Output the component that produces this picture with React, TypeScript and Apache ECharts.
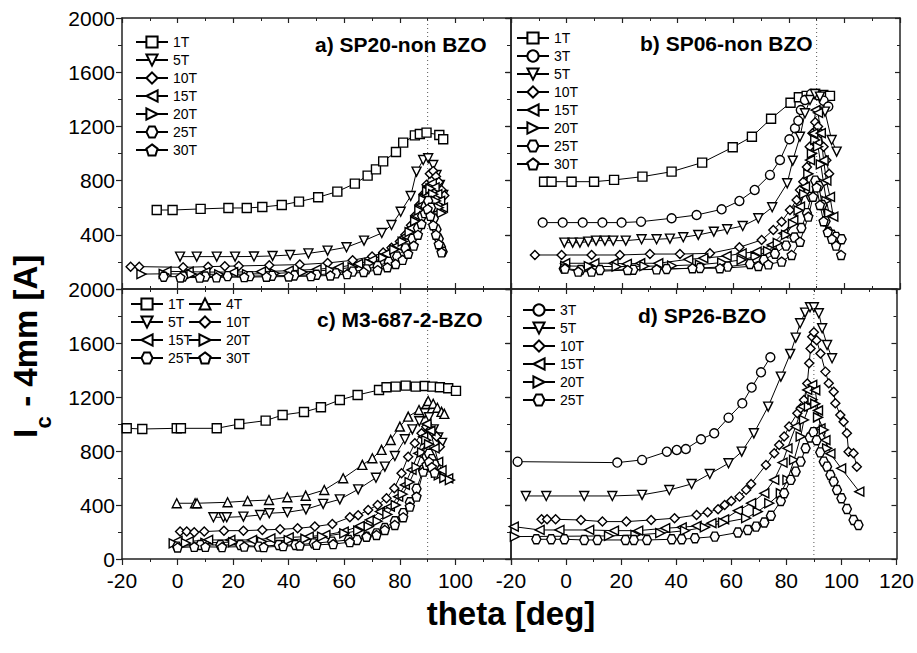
import React, { useEffect, useRef } from "react";
import * as echarts from "echarts";

// ---------------- data (theta [deg], Ic [A]) ----------------
const A_1T = [[-7.5,583],[-1.8,583],[8.3,591],[18.3,598],[24.9,598],[30.5,605],[37.5,620],[43.7,645],[50.6,677],[57.5,719],[63.8,778],[68.4,837],[71.4,883],[74,942],[78.6,1011],[81.2,1080],[85.4,1134],[87.2,1144],[89.6,1154],[94.2,1137],[95.6,1105]];
const A_5T = [[0.9,239],[6.9,239],[14.1,239],[20.7,239],[27.5,240],[34.2,244],[40.5,251],[47.1,263],[54,283],[60.8,308],[67.1,357],[73.5,413],[77,472],[80.3,570],[83.9,686],[86,866],[88.4,952],[90.2,965],[92,915],[93.2,841],[94.4,768],[95.6,694]];
const A_10T = [[-16.9,165],[-13.8,165],[2,160],[11,165],[17,168],[22,170],[33,175],[44,180],[54,192],[63,212],[70,240],[74,270],[77,305],[80,350],[82,400],[84,470],[85.5,540],[87,620],[88.5,700],[89.6,770],[90.8,850],[92,870],[93,830],[94,790],[95,730],[96,690]];
const A_15T = [[-4,130],[4,128],[10,125],[20,125],[30,128],[40,135],[50,145],[58,160],[65,185],[70,215],[75,260],[79,320],[82,390],[84,450],[86,540],[87.5,620],[89,700],[90.2,760],[91.5,780],[92.5,750],[93.5,700],[94.5,650],[95.5,600]];
const A_20T = [[-13,110],[-5,112],[5,110],[15,108],[25,110],[35,115],[45,125],[55,140],[63,160],[69,190],[74,230],[78,290],[81,350],[83.5,420],[85.5,500],[87,580],[88.5,660],[89.8,720],[91,740],[92,700],[93,650],[94,600],[95,560]];
const A_25T = [[-5,90],[2,92],[10,92],[18,95],[26,95],[34,98],[42,100],[50,105],[57,115],[63,128],[68,145],[72,170],[76,200],[79,240],[82,300],[84.5,370],[86.5,450],[88,540],[89.2,610],[90.2,650],[91.2,600],[92.2,520],[93.2,440],[94,370],[94.8,310],[95.4,275]];
const A_30T = [[1,85],[8,84],[14,86],[24,88],[32,90],[40,92],[48,95],[55,100],[61,110],[67,125],[72,140],[75.5,160],[78.5,185],[81,215],[83,260],[85,320],[86.5,400],[87.8,480],[89,560],[90,590],[91,540],[92,470],[93,400],[94,330],[95,270]];

const B_1T = [[-8.1,792],[-5.4,792],[1.8,792],[9.9,792],[17.1,805],[27.3,829],[37.8,866],[48.8,933],[59.8,1046],[66.7,1124],[73.6,1257],[80.6,1375],[83.6,1415],[86.4,1425],[89.4,1439],[92.4,1432],[94.8,1425]];
const B_3T = [[-8.6,490],[-1.4,490],[5.8,490],[12.9,490],[19.8,490],[26.8,497],[37.8,522],[46.8,546],[55.8,588],[62.2,650],[67.7,731],[73.2,842],[76.8,952],[80.2,1105],[82.2,1186],[83.4,1242],[84.3,1321],[85.8,1395],[88,1440],[90.5,1430],[92.5,1390],[94.2,1346]];
const B_5T = [[-0.8,342],[2.2,342],[4.8,342],[7.8,350],[10.6,357],[13.8,357],[16.8,357],[21.3,357],[27,367],[32.4,367],[37.2,372],[42,382],[47.4,399],[53,423],[57.8,441],[63.4,465],[69,522],[74,603],[79.4,780],[81.4,947],[84,1124],[85.8,1297],[87.6,1395],[89.4,1439],[91.2,1420],[93,1309],[95.4,1100],[97.2,1014]];
const B_10T = [[-11.4,251],[-1.8,251],[9,251],[19.2,251],[30,258],[40.8,258],[51.6,263],[62.2,308],[70.2,362],[74.4,436],[77.4,497],[80.4,583],[82.8,657],[84,731],[85.2,792],[86.5,900],[87.5,1050],[88.5,1150],[89.5,1230],[90.5,1200],[91.5,1150],[92.5,1050],[93.5,950],[94.5,850]];
const B_15T = [[-0.5,190],[10,190],[16.9,190],[21.7,185],[26.5,190],[33,190],[43.8,219],[49.2,227],[57.6,244],[63,263],[68.4,276],[73.8,325],[78,411],[81.6,509],[84,608],[85.8,755],[87.6,952],[88.8,1149],[89.6,1321],[90.5,1300],[91.5,1150],[92.5,950],[93.5,800],[94.8,680],[96,534]];
const B_20T = [[-0.5,170],[8,168],[18,165],[28,168],[38,172],[48,180],[56,195],[63,215],[68,240],[72.5,280],[76,340],[79,400],[81.5,480],[83.5,580],[85.5,700],[87,850],[88.3,1000],[89.5,1100],[90.5,1050],[91.5,920],[92.5,780],[93.5,650],[94.5,560]];
const B_25T = [[-1,150],[5,140],[12,140],[24,142],[36,148],[48,155],[58,165],[66,185],[71,215],[75,260],[79,320],[82,380],[84.5,450],[86.5,560],[88,680],[89.5,800],[90.8,760],[92,620],[93.2,500],[94.2,423],[95.5,400],[97,385],[99,367]];
const B_30T = [[-0.6,150],[4.2,128],[9,128],[22,140],[32.4,145],[45.3,153],[55.2,153],[69,170],[72.6,182],[77.4,202],[81,251],[84,349],[87,534],[88.7,681],[90,750],[91.2,620],[92.5,500],[94,420],[95.5,370],[97,320],[98.8,251]];

const C_1T = [[-18.3,968],[-12.7,963],[-0.3,968],[1.2,968],[14.1,968],[22.2,1000],[31.7,1025],[37.8,1067],[45.5,1089],[51.6,1124],[58.4,1178],[64.8,1215],[72.5,1252],[75.2,1272],[78.5,1277],[82.1,1284],[85.7,1277],[89,1282],[91.7,1277],[94.4,1272],[97.4,1265],[100.2,1245]];
const C_4T = [[-0.3,413],[6.3,413],[7,413],[18,420],[25.2,430],[32.9,437],[39.5,457],[46.1,469],[52.8,511],[59.6,598],[66.5,697],[70.1,746],[73.4,808],[76.7,882],[80,981],[83,1055],[86.9,1104],[89.6,1148],[90.2,1170],[92,1150],[93.5,1120],[95,1090],[96,1075]];
const C_5T = [[12.9,309],[16.5,309],[17.7,309],[23.7,314],[29.7,326],[33,339],[39.5,346],[46.2,368],[52.4,408],[58.4,442],[65,516],[71.4,602],[74.6,684],[78.2,763],[81.8,887],[84.5,960],[87,1020],[89,1080],[90.5,1050],[92.2,960],[93.8,900],[95.2,860]];
const C_10T = [[0.9,203],[3.3,203],[6,198],[9.6,203],[16.7,210],[23.7,210],[30.5,215],[36.9,220],[43.2,227],[49.4,240],[55.7,259],[62,309],[65,324],[68.6,363],[72,400],[75.2,450],[78,524],[80.6,635],[83,758],[85.4,857],[87.8,931],[89.5,980],[91,960],[92.2,930],[93.2,907],[94.4,832]];
const C_15T = [[0,135],[4,130],[11,141],[19,141],[26.8,141],[33.4,153],[40,160],[47.2,166],[53.2,178],[59.8,203],[65.6,245],[69.2,290],[72.8,351],[76.4,388],[79.4,462],[81.8,549],[84.2,660],[86.6,783],[88.4,906],[89.6,1000],[91,950],[92.5,820],[93.8,720],[95,659],[97.4,598]];
const C_20T = [[-1.4,116],[3,118],[10,120],[20,125],[30.4,129],[40,140],[46,150],[52,166],[60,190],[65,210],[68.8,240],[72,280],[75.5,330],[78.5,400],[81,480],[83.5,570],[86,680],[88,790],[89.5,880],[90.5,850],[92,720],[93,640],[94,620],[96,600],[98,585]];
const C_25T = [[-0.2,92],[8.2,104],[15.4,104],[22.6,104],[29.2,92],[36.4,104],[42.4,104],[49,116],[55.6,129],[61.6,141],[64.6,141],[68,165],[71.6,190],[74.6,230],[78.2,280],[81.2,340],[83.6,420],[86,520],[88.4,660],[89.6,760],[90.5,780],[91.5,740],[92.5,700]];
const C_30T = [[0,85],[6,90],[10,90],[16,88],[24,92],[31,88],[38,95],[44,100],[50,105],[56,110],[62,125],[68,166],[71.6,178],[74.6,215],[78.2,252],[81.2,309],[83.6,388],[86,462],[88.4,647],[89.6,697],[90.5,720],[91.5,680],[92.5,640]];

const D_3T = [[-17.6,721],[18.6,714],[27.6,734],[36.6,795],[40.2,808],[43.5,815],[49,887],[53.8,931],[59,1047],[64,1153],[67.4,1270],[70.8,1383],[74.2,1494]];
const D_5T = [[-14.6,467],[-7.2,467],[6.6,467],[16.8,467],[27.6,475],[37.5,511],[45.6,556],[52.2,630],[59,709],[63.8,795],[68.2,931],[73.4,1129],[78,1351],[81.4,1519],[83.4,1640],[85,1746],[86.8,1825],[88.6,1865],[90,1865],[91.8,1820],[93,1709],[94.8,1585],[96.6,1487]];
const D_10T = [[-8.9,294],[-6.9,294],[-3.8,294],[5.4,289],[13.2,277],[21.9,277],[30.9,289],[39.4,302],[47.4,326],[51.4,346],[55.2,368],[57.6,400],[60,430],[63,462],[65.4,512],[67.2,556],[72.6,697],[75.6,783],[77.4,845],[79.2,907],[81,981],[84,1079],[85.2,1116],[86.4,1178],[87.6,1300],[88.3,1450],[88.8,1560],[89.4,1647],[90,1680],[91,1620],[92.4,1523],[94.2,1388],[95.4,1301],[97.2,1239],[97.8,1153],[99.6,1067],[100.8,1017],[102,931],[102.6,795],[104.4,783],[105.6,684]];
const D_15T = [[-19,240],[-9.6,215],[-2.4,215],[8.4,215],[17.4,210],[26.2,210],[36,228],[42,235],[47.4,245],[52.8,265],[57.4,294],[62.4,358],[67.2,413],[72,487],[75.6,586],[78.6,714],[80.4,820],[83.4,981],[85.8,1129],[87.6,1252],[89.4,1289],[90.5,1250],[91.5,1100],[92.4,968],[94.2,881],[96,780],[99.9,672],[106.5,499]];
const D_20T = [[-18.6,166],[15.6,171],[25.2,178],[34.2,191],[43.2,210],[50.4,235],[57,270],[65.4,302],[69.6,351],[73.8,413],[78,487],[80.4,586],[82.8,734],[85.2,907],[86.4,1030],[88.2,1129],[89.5,1180],[90.5,1150],[91.5,1050],[93.6,956],[94.8,820]];
const D_25T = [[-10.8,146],[-5.4,146],[-0.6,146],[6.6,141],[11.4,141],[21.6,141],[24.6,141],[29.4,141],[38.4,146],[42,146],[46.8,154],[54,166],[62.4,196],[66,215],[69,240],[72,270],[74.4,320],[78,430],[79.2,487],[81.6,586],[83.4,647],[85.2,721],[87,820],[88.5,900],[89.8,940],[91,880],[92.3,790],[93.6,721],[94.8,684],[96,622],[97.2,573],[98.4,511],[100,450],[102,370],[104.4,289],[106.2,252]];

const X_TICKS = [-20, 0, 20, 40, 60, 80, 100, 120];
const Y_TICKS = [0, 400, 800, 1200, 1600, 2000];

const PANELS = [
  { key: "a", title: "a) SP20-non BZO", series: [["1T", A_1T], ["5T", A_5T], ["10T", A_10T], ["15T", A_15T], ["20T", A_20T], ["25T", A_25T], ["30T", A_30T]] },
  { key: "b", title: "b) SP06-non BZO", series: [["1T", B_1T], ["3T", B_3T], ["5T", B_5T], ["10T", B_10T], ["15T", B_15T], ["20T", B_20T], ["25T", B_25T], ["30T", B_30T]] },
  { key: "c", title: "c) M3-687-2-BZO", series: [["1T", C_1T], ["4T", C_4T], ["5T", C_5T], ["10T", C_10T], ["15T", C_15T], ["20T", C_20T], ["25T", C_25T], ["30T", C_30T]] },
  { key: "d", title: "d) SP26-BZO", series: [["3T", D_3T], ["5T", D_5T], ["10T", D_10T], ["15T", D_15T], ["20T", D_20T], ["25T", D_25T]] },
];

const HEX = "path://M0,5L2.5,0.7L7.5,0.7L10,5L7.5,9.3L2.5,9.3Z";
const PENT = "path://M5,0L9.76,3.45L7.94,9.05L2.06,9.05L0.24,3.45Z";
const SYMBOL: Record<string, string> = { "1T": "rect", "3T": "circle", "4T": "triangle", "5T": "triangle", "10T": "diamond", "15T": "triangle", "20T": "triangle", "25T": HEX, "30T": PENT };
const ROTATE: Record<string, number> = { "5T": 180, "15T": 90, "20T": -90 };

const FONT = "'Liberation Sans', Arial, sans-serif";

const GRIDS = [
  { left: 122, top: 18, width: 389, height: 271 },
  { left: 511, top: 18, width: 389, height: 271 },
  { left: 122, top: 289, width: 389, height: 270 },
  { left: 511, top: 289, width: 389, height: 270 },
];
const TITLE_POS = [[315, 44], [640, 43], [317, 319], [638, 315]];

export default function App() {
  const ref = useRef<HTMLDivElement>(null);
  useEffect(() => {
    if (!ref.current) return;
    const chart = echarts.init(ref.current, undefined, { renderer: "svg" });
    const axisLine = { show: true, onZero: false, lineStyle: { color: "#222", width: 1.5 } };
    const xAxis: any[] = [];
    const yAxis: any[] = [];
    const series: any[] = [];
    GRIDS.forEach((_, g) => {
      const lower = g >= 2;
      const leftCol = g % 2 === 0;
      xAxis.push({
        gridIndex: g, type: "value", position: "bottom", min: X_TICKS[0], max: X_TICKS[X_TICKS.length - 1], interval: 20,
        axisLine, splitLine: { show: false },
        axisTick: { show: true, inside: !lower, length: 6, lineStyle: { color: "#222", width: 1.2 } },
        minorTick: { show: true, splitNumber: 2, length: 3, lineStyle: { color: "#222", width: 1 } },
        axisLabel: {
          show: lower, fontSize: 21, color: "#000", fontFamily: FONT, margin: 11,
          formatter: (v: number) => (leftCol && v === 120 ? "" : X_TICKS.includes(v) ? String(v) : ""),
        },
      });
      xAxis.push({
        gridIndex: g, type: "value", position: "top", min: -20, max: 120, interval: 20,
        axisLine, splitLine: { show: false }, axisLabel: { show: false },
        axisTick: { show: true, inside: true, length: 5, lineStyle: { color: "#222", width: 1.2 } },
        minorTick: { show: true, splitNumber: 2, length: 3, lineStyle: { color: "#222", width: 1 } },
      });
      yAxis.push({
        gridIndex: g, type: "value", position: "left", min: Y_TICKS[0], max: Y_TICKS[Y_TICKS.length - 1], interval: 400,
        axisLine, splitLine: { show: false },
        axisTick: { show: true, inside: false, length: 6, lineStyle: { color: "#222", width: 1.2 } },
        minorTick: { show: true, splitNumber: 2, length: 4, lineStyle: { color: "#222", width: 1 } },
        axisLabel: {
          show: leftCol, fontSize: 21, color: "#000", fontFamily: FONT, margin: 7,
          formatter: (v: number) => (!lower && v === 0 ? "" : String(v)),
        },
      });
      yAxis.push({
        gridIndex: g, type: "value", position: "right", min: 0, max: 2000, interval: 400,
        axisLine, splitLine: { show: false }, axisLabel: { show: false },
        axisTick: { show: true, inside: true, length: 5, lineStyle: { color: "#222", width: 1.2 } },
        minorTick: { show: true, splitNumber: 2, length: 3, lineStyle: { color: "#222", width: 1 } },
      });
      const p = PANELS[g];
      (p.series as any[]).forEach(([name, data]) => {
        series.push({
          type: "line", name: `${p.key}|${name}`, xAxisIndex: g * 2, yAxisIndex: g * 2, data,
          symbol: SYMBOL[name], symbolRotate: ROTATE[name] || 0, symbolSize: 9,
          lineStyle: { color: "#000", width: 1 },
          itemStyle: { color: "#fff", borderColor: "#000", borderWidth: 1.4 },
          emphasis: { disabled: true }, silent: true, z: 3,
        });
      });
      series.push({
        type: "line", name: `${p.key}|ref`, xAxisIndex: g * 2, yAxisIndex: g * 2,
        data: [[90, 0], [90, 2000]], symbol: "none", silent: true, z: 1,
        lineStyle: { color: "#555", width: 1, type: [1, 3] },
      });
    });

    const legendBase = {
      orient: "vertical", itemWidth: 32, itemHeight: 14, itemGap: 4, padding: 0, selectedMode: false,
      textStyle: { fontSize: 14, fontFamily: FONT, color: "#000" },
      formatter: (n: string) => n.split("|")[1],
    };
    const names = (k: string, list: string[]) => list.map((n) => `${k}|${n}`);
    const legend = [
      { ...legendBase, left: 135, top: 35, data: names("a", ["1T", "5T", "10T", "15T", "20T", "25T", "30T"]) },
      { ...legendBase, left: 516, top: 31, data: names("b", ["1T", "3T", "5T", "10T", "15T", "20T", "25T", "30T"]) },
      { ...legendBase, left: 130, top: 297, data: names("c", ["1T", "5T", "15T", "25T"]) },
      { ...legendBase, left: 188, top: 297, data: names("c", ["4T", "10T", "20T", "30T"]) },
      { ...legendBase, left: 522, top: 303, data: names("d", ["3T", "5T", "10T", "15T", "20T", "25T"]) },
    ];

    const titleText = PANELS.map((p, i) => ({
      type: "text", x: TITLE_POS[i][0], y: TITLE_POS[i][1], z: 10,
      style: { text: p.title, fontSize: 21, fontWeight: "bold", fontFamily: FONT, fill: "#000", verticalAlign: "middle" },
    }));

    const graphic = [
      ...titleText,
      { type: "text", x: 25.5, y: 438, rotation: Math.PI / 2, style: { text: "I", fontSize: 33, fontWeight: "bold", fontFamily: FONT, fill: "#000", align: "left", verticalAlign: "middle" } },
      { type: "text", x: 43, y: 428.5, rotation: Math.PI / 2, style: { text: "c", fontSize: 22, fontWeight: "bold", fontFamily: FONT, fill: "#000", align: "left", verticalAlign: "middle" } },
      { type: "text", x: 25.5, y: 416, rotation: Math.PI / 2, style: { text: " - 4mm [A]", fontSize: 33, fontWeight: "bold", fontFamily: FONT, fill: "#000", align: "left", verticalAlign: "middle" } },
      { type: "text", x: 511, y: 613, style: { text: "theta [deg]", fontSize: 33, fontWeight: "bold", fontFamily: FONT, fill: "#000", align: "center", verticalAlign: "middle" } },
    ];

    chart.setOption({
      animation: false,
      backgroundColor: "#fff",
      grid: GRIDS.map((g) => ({ ...g, containLabel: false })),
      xAxis, yAxis, series, legend, graphic,
    });
    return () => chart.dispose();
  }, []);
  return <div ref={ref} style={{ position: "fixed", left: 0, top: 0, width: 917, height: 653 }} />;
}
